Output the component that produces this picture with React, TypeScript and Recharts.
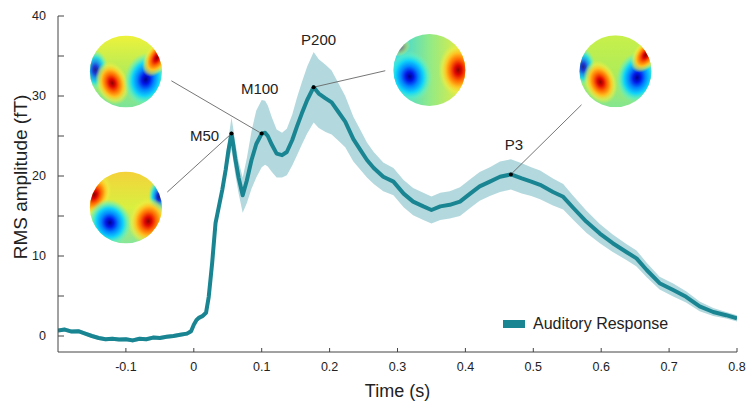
import React from "react";
import { ComposedChart, Line, Area, XAxis, YAxis, ReferenceDot, ReferenceLine, Label } from "recharts";

// time axis (s) and RMS amplitude (fT)
const times = [
  -0.2, -0.19, -0.18, -0.17, -0.16, -0.15, -0.14, -0.13, -0.12, -0.11,
  -0.1, -0.09, -0.08, -0.07, -0.06, -0.05, -0.04, -0.03, -0.02, -0.01,
  -0.004, 0.0, 0.004, 0.008, 0.013, 0.018, 0.022, 0.027, 0.032, 0.037,
  0.042, 0.047, 0.051, 0.0555, 0.058, 0.061, 0.066, 0.072, 0.078, 0.085,
  0.092, 0.1, 0.105, 0.109, 0.115, 0.122, 0.13, 0.137, 0.145, 0.152,
  0.159, 0.167, 0.1765, 0.184, 0.194, 0.203, 0.213, 0.223, 0.235, 0.245,
  0.255, 0.265, 0.279, 0.294, 0.309, 0.323, 0.338, 0.35, 0.363, 0.377,
  0.392, 0.407, 0.421, 0.436, 0.451, 0.467, 0.483, 0.497, 0.51, 0.529,
  0.544, 0.559, 0.578, 0.598, 0.617, 0.637, 0.652, 0.667, 0.686, 0.706,
  0.725, 0.745, 0.765, 0.784, 0.8,
];
const rms = [
  0.7, 0.8, 0.55, 0.6, 0.3, 0.0, -0.25, -0.4, -0.35, -0.45,
  -0.4, -0.55, -0.35, -0.4, -0.2, -0.25, -0.1, 0.0, 0.15, 0.3,
  0.6, 1.4, 2.0, 2.3, 2.5, 2.9, 4.9, 9.1, 14.1, 16.2,
  18.3, 20.8, 23.2, 25.3, 24.0, 22.2, 19.8, 17.6, 19.4, 22.0,
  24.0, 25.3, 25.4, 25.0, 23.9, 22.8, 22.6, 23.0, 24.5, 26.2,
  27.8, 29.5, 31.1, 30.3, 29.7, 29.2, 28.0, 26.8, 24.6, 23.3,
  22.0, 21.0, 19.9, 19.3, 17.8, 16.8, 16.2, 15.75, 16.2, 16.4,
  16.8, 17.8, 18.7, 19.3, 19.9, 20.2, 19.7, 19.3, 18.9, 18.0,
  17.4, 16.0, 14.3, 12.8, 11.6, 10.5, 9.7, 8.25, 6.6, 5.75,
  4.9, 3.7, 3.0, 2.6, 2.2,
];
// half width of the shaded band
const spread = [
  0.25, 0.25, 0.25, 0.25, 0.25, 0.25, 0.25, 0.25, 0.25, 0.25,
  0.25, 0.25, 0.25, 0.25, 0.25, 0.25, 0.25, 0.25, 0.25, 0.25,
  0.3, 0.3, 0.3, 0.3, 0.3, 0.3, 0.35, 0.4, 0.5, 0.6,
  0.8, 1.0, 1.5, 2.0, 2.0, 2.0, 2.0, 2.2, 2.8, 3.6,
  4.2, 4.2, 4.0, 3.8, 3.4, 3.0, 2.8, 2.9, 3.2, 3.6,
  3.9, 4.2, 4.4, 4.3, 4.2, 4.0, 3.6, 3.2, 2.8, 2.5,
  2.2, 2.0, 1.8, 1.7, 1.7, 1.7, 1.7, 1.7, 1.7, 1.7,
  1.8, 1.8, 1.8, 1.8, 1.9, 1.9, 1.9, 1.8, 1.8, 1.7,
  1.6, 1.5, 1.4, 1.2, 1.1, 1.0, 1.0, 0.9, 0.8, 0.8,
  0.7, 0.6, 0.5, 0.4, 0.4,
];

const xTicks = [-0.1, 0, 0.1, 0.2, 0.3, 0.4, 0.5, 0.6, 0.7, 0.8];
const yTicks = [0, 5, 10, 15, 20, 25, 30, 35, 40];

const peakNames = ["M50", "M100", "P200", "P3"];
const peakTimes = [0.0555, 0.1, 0.1765, 0.467];
const peakValues = [25.3, 25.3, 31.1, 20.2];

const data = times.map((t, i) => ({
  t,
  rms: rms[i],
  band: [rms[i] - spread[i], rms[i] + spread[i]],
}));

const TEAL = "#1a8592";
const BAND = "#b3d9de";
const FONT = '"Liberation Sans", Arial, Helvetica, sans-serif';

// annotation layout (data coords): map centre, end of connector, label offset in px
const topoCenters = [
  { x: -0.1, y: 16.06 },
  { x: -0.1, y: 33.06 },
  { x: 0.347, y: 33.25 },
  { x: 0.621, y: 33.1 },
];
const linkEnds = [
  { x: -0.039, y: 18.0 },
  { x: -0.033, y: 31.9 },
  { x: 0.282, y: 33.16 },
  { x: 0.571, y: 28.9 },
];
const labelOffsets = [
  { dx: -27, dy: 2 },
  { dx: -2, dy: -45 },
  { dx: 5, dy: -48 },
  { dx: 3, dy: -30 },
];

type Blob = { x: number; y: number; rx: number; ry: number; hot: boolean; a?: number; o?: number };
type Base = { dir: "v" | "h"; stops: string[] };

const topoBases: Base[] = [
  { dir: "v", stops: ["#f4d23a", "#d8f040", "#86e69a"] },
  { dir: "v", stops: ["#eef23a", "#b4ec58", "#7ae49a"] },
  { dir: "h", stops: ["#30d4ea", "#90ea88", "#eeec38"] },
  { dir: "v", stops: ["#c8f04a", "#b0ec58", "#84e690"] },
];
const topoBlobs: Blob[][] = [
  [
    { x: -0.88, y: -0.35, rx: 0.45, ry: 0.62, hot: true, a: 25 },
    { x: 0.92, y: -0.3, rx: 0.3, ry: 0.5, hot: false, o: 0.9 },
    { x: -0.45, y: 0.42, rx: 0.6, ry: 0.66, hot: false, a: -20 },
    { x: 0.62, y: 0.38, rx: 0.55, ry: 0.66, hot: true, a: 10 },
  ],
  [
    { x: -0.85, y: -0.05, rx: 0.36, ry: 0.55, hot: false, o: 0.85 },
    { x: -0.38, y: 0.32, rx: 0.45, ry: 0.62, hot: true, a: -20 },
    { x: 0.55, y: 0.22, rx: 0.6, ry: 0.75, hot: false, a: 10 },
    { x: 0.86, y: -0.38, rx: 0.34, ry: 0.58, hot: true, a: 30 },
  ],
  [
    { x: -0.55, y: 0.18, rx: 0.62, ry: 0.72, hot: false, a: -10 },
    { x: 0.8, y: 0.0, rx: 0.55, ry: 0.75, hot: true },
    { x: -0.8, y: -0.62, rx: 0.3, ry: 0.22, hot: true, a: -35, o: 0.35 },
  ],
  [
    { x: -0.9, y: -0.12, rx: 0.34, ry: 0.52, hot: false, o: 0.85 },
    { x: -0.42, y: 0.3, rx: 0.45, ry: 0.62, hot: true, a: -20 },
    { x: 0.6, y: 0.18, rx: 0.58, ry: 0.72, hot: false, a: 10 },
    { x: 0.84, y: -0.45, rx: 0.34, ry: 0.55, hot: true, a: 35 },
  ],
];

function TopoMap({ cx, cy, id, blobs, base }: { cx: number; cy: number; id: string; blobs: Blob[]; base: Base }) {
  const r = 36;
  if (cx == null || cy == null) return null;
  return (
    <g>
      <defs>
        <clipPath id={`clip-${id}`}>
          <circle cx={cx} cy={cy} r={r} />
        </clipPath>
        <linearGradient id={`base-${id}`} x1="0" y1="0" x2={base.dir === "h" ? "1" : "0"} y2={base.dir === "v" ? "1" : "0"}>
          <stop offset="0" stopColor={base.stops[0]} />
          <stop offset="0.5" stopColor={base.stops[1]} />
          <stop offset="1" stopColor={base.stops[2]} />
        </linearGradient>
        <radialGradient id={`hot-${id}`}>
          <stop offset="0" stopColor="#8a0000" />
          <stop offset="0.18" stopColor="#e00800" />
          <stop offset="0.4" stopColor="#ff6a00" />
          <stop offset="0.62" stopColor="#ffc020" />
          <stop offset="0.82" stopColor="#f4ec40" stopOpacity="0.6" />
          <stop offset="1" stopColor="#e8f040" stopOpacity="0" />
        </radialGradient>
        <radialGradient id={`cold-${id}`}>
          <stop offset="0" stopColor="#00008c" />
          <stop offset="0.18" stopColor="#0018e8" />
          <stop offset="0.4" stopColor="#0088ff" />
          <stop offset="0.62" stopColor="#10d4f8" />
          <stop offset="0.82" stopColor="#50f0d0" stopOpacity="0.6" />
          <stop offset="1" stopColor="#80f0b0" stopOpacity="0" />
        </radialGradient>
      </defs>
      <g clipPath={`url(#clip-${id})`}>
        <rect x={cx - r} y={cy - r} width={2 * r} height={2 * r} fill={`url(#base-${id})`} />
        {blobs.map((b, i) => {
          const bx = cx + b.x * r;
          const by = cy + b.y * r;
          return (
            <ellipse
              key={i}
              cx={bx}
              cy={by}
              rx={b.rx * r}
              ry={b.ry * r}
              fill={`url(#${b.hot ? "hot" : "cold"}-${id})`}
              opacity={b.o ?? 1}
              transform={`rotate(${b.a ?? 0} ${bx} ${by})`}
            />
          );
        })}
      </g>
    </g>
  );
}

export default function App() {
  return (
    <div style={{ position: "absolute", left: 0, top: 0, width: 746, height: 402, background: "#fff", fontFamily: FONT }}>
      <ComposedChart width={746} height={402} data={data} margin={{ top: 16, right: 9, left: 10, bottom: 0 }}>
        <XAxis
          type="number"
          dataKey="t"
          domain={[-0.2, 0.8]}
          ticks={xTicks}
          interval={0}
          allowDataOverflow
          height={50}
          stroke="#444"
          tickSize={-4}
          tickMargin={14}
          tickFormatter={(v: number) => String(v)}
          tick={{ fill: "#222", fontSize: 12.5, fontFamily: FONT }}
        >
          <Label value="Time (s)" position="insideBottom" offset={5} style={{ fill: "#222", fontSize: 18, fontFamily: FONT }} />
        </XAxis>
        <YAxis
          type="number"
          domain={[-2, 40]}
          ticks={yTicks}
          interval={0}
          allowDataOverflow
          width={48}
          stroke="#444"
          tickSize={-6}
          tickMargin={18}
          tickFormatter={(v: number) => (v % 10 === 0 ? String(v) : "")}
          tick={{ fill: "#222", fontSize: 12.5, fontFamily: FONT }}
        >
          <Label
            content={(p: any) => {
              const vb = p.viewBox || { x: 10, y: 16, width: 48, height: 336 };
              const lx = vb.x + 10;
              const ly = vb.y + vb.height / 2 - 7;
              return (
                <text
                  x={lx}
                  y={ly}
                  transform={`rotate(-90 ${lx} ${ly})`}
                  textAnchor="middle"
                  dominantBaseline="central"
                  fill="#222"
                  fontSize={19}
                  fontFamily={FONT}
                >
                  RMS amplitude (fT)
                </text>
              );
            }}
          />
        </YAxis>

        <Area
          type="linear"
          dataKey="band"
          stroke="none"
          fill={BAND}
          fillOpacity={1}
          isAnimationActive={false}
          activeDot={false}
          legendType="none"
        />
        <Line
          type="linear"
          dataKey="rms"
          stroke={TEAL}
          strokeWidth={4}
          strokeLinejoin="round"
          dot={false}
          activeDot={false}
          isAnimationActive={false}
        />

        {peakTimes.map((t, i) => (
          <ReferenceLine
            key={`link-${i}`}
            segment={[
              { x: t, y: peakValues[i] },
              { x: linkEnds[i].x, y: linkEnds[i].y },
            ]}
            stroke="#666"
            strokeWidth={0.9}
          />
        ))}

        {topoCenters.map((c, i) => (
          <ReferenceDot
            key={`topo-${i}`}
            x={c.x}
            y={c.y}
            r={36}
            shape={(p: any) => <TopoMap cx={p.cx} cy={p.cy} id={`m${i}`} blobs={topoBlobs[i]} base={topoBases[i]} />}
          />
        ))}

        {peakTimes.map((t, i) => (
          <ReferenceDot
            key={`peak-${i}`}
            x={t}
            y={peakValues[i]}
            r={2}
            shape={(p: any) =>
              p.cx == null ? null : (
                <g>
                  <circle cx={p.cx} cy={p.cy} r={2} fill="#000" />
                  <text
                    x={p.cx + labelOffsets[i].dx}
                    y={p.cy + labelOffsets[i].dy}
                    textAnchor="middle"
                    dominantBaseline="central"
                    fill="#222"
                    fontSize={15}
                    fontFamily={FONT}
                  >
                    {peakNames[i]}
                  </text>
                </g>
              )
            }
          />
        ))}
      </ComposedChart>

      <div style={{ position: "absolute", left: 503, top: 314, height: 20, display: "flex", alignItems: "center" }}>
        <div style={{ width: 22, height: 7.5, background: TEAL }} />
        <span style={{ marginLeft: 8, fontSize: 16, color: "#222", fontFamily: FONT }}>Auditory Response</span>
      </div>
    </div>
  );
}
